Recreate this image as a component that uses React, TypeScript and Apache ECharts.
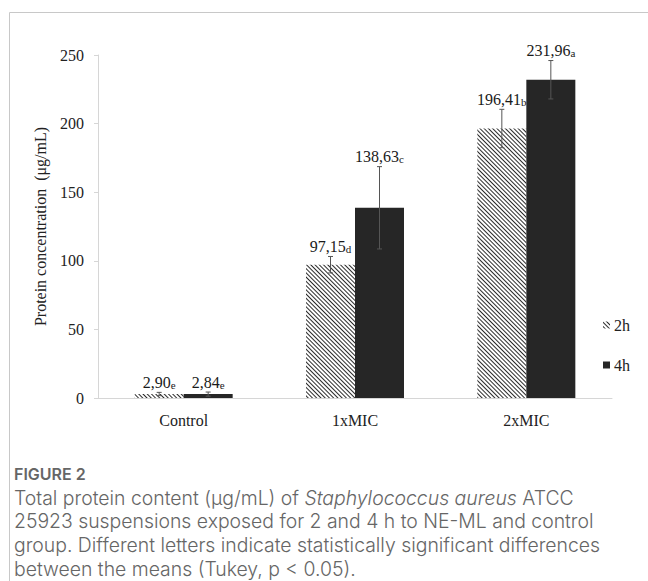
import React, { useEffect, useRef } from "react";
import * as echarts from "echarts";

const categories = ["Control", "1xMIC", "2xMIC"];
const seriesNames = ["2h", "4h"];
const values2h = [2.9, 97.15, 196.41];
const values4h = [2.84, 138.63, 231.96];
const errors2h = [1.2, 6, 14];
const errors4h = [1.5, 30, 14];
const letters2h = ["e", "d", "b"];
const letters4h = ["e", "c", "a"];
const yMin = 0;
const yMax = 250;
const yInterval = 50;
const yAxisName = "Protein concentration  (μg/mL)";
const captionTitle = "FIGURE 2";
const captionLines = [
  "Total protein content (μg/mL) of {i|Staphylococcus aureus} ATCC",
  "25923 suspensions exposed for 2 and 4 h to NE-ML and control",
  "group. Different letters indicate statistically significant differences",
  "between the means (Tukey, p < 0.05).",
];

const BAR_W = 49;
const SERIF = "'Liberation Serif', 'Times New Roman', serif";
const SANS = "Inter, 'Open Sans', sans-serif";
const CAP_SIZE = 19.4;
const CAP_LH = 23.6;

const fmt = (v: number) => v.toFixed(2).replace(".", ",");

export default function App() {
  const ref = useRef<HTMLDivElement>(null);
  useEffect(() => {
    document.body.style.margin = "0";
    const chart = echarts.init(ref.current!, undefined, { renderer: "svg" });
    const errData: any[] = [];
    categories.forEach((_, i) => {
      errData.push([i, 0, values2h[i], errors2h[i], letters2h[i]]);
      errData.push([i, 1, values4h[i], errors4h[i], letters4h[i]]);
    });
    const option: any = {
      animation: false,
      backgroundColor: "#fff",
      textStyle: { fontFamily: SERIF },
      grid: { left: 98, right: 36, top: 55, bottom: 183, containLabel: false },
      legend: {
        orient: "vertical",
        left: 598,
        top: 312,
        itemWidth: 7,
        itemHeight: 7,
        itemGap: 24,
        icon: "rect",
        textStyle: { fontFamily: SERIF, fontSize: 16, color: "#222", padding: [0, 0, 0, -1] },
        data: seriesNames,
      },
      xAxis: {
        type: "category",
        data: categories,
        axisLine: { lineStyle: { color: "#d6d6d6", width: 1 } },
        axisTick: { show: false },
        axisLabel: { fontFamily: SERIF, fontSize: 16, color: "#222", margin: 14 },
      },
      yAxis: {
        type: "value",
        min: yMin,
        max: yMax,
        interval: yInterval,
        name: yAxisName,
        nameLocation: "middle",
        nameGap: 50,
        nameTextStyle: { fontFamily: SERIF, fontSize: 16, color: "#222" },
        axisLine: { show: true, lineStyle: { color: "#d6d6d6", width: 1 } },
        axisTick: { show: true, length: 4, lineStyle: { color: "#d6d6d6" } },
        axisLabel: { fontFamily: SERIF, fontSize: 16, color: "#222", margin: 14 },
        splitLine: { show: false },
      },
      series: [
        {
          name: seriesNames[0],
          type: "bar",
          data: values2h,
          barWidth: BAR_W,
          barGap: "0%",
          itemStyle: {
            color: "#ffffff",
            decal: {
              symbol: "rect",
              symbolSize: 1,
              dashArrayX: [1, 0],
              dashArrayY: [1, 1.4],
              rotation: Math.PI / 4,
              color: "#2a2a2a",
            },
          },
        },
        {
          name: seriesNames[1],
          type: "bar",
          data: values4h,
          barWidth: BAR_W,
          barGap: "0%",
          itemStyle: { color: "#262626" },
        },
        {
          type: "custom",
          data: errData,
          z: 10,
          renderItem: (params: any, api: any) => {
            const cat = api.value(0);
            const s = api.value(1);
            const v = api.value(2);
            const e = api.value(3);
            const letter = errData[params.dataIndex][4];
            const xc = api.coord([cat, 0])[0] + (s === 0 ? -BAR_W / 2 : BAR_W / 2);
            const top = api.coord([cat, v + e])[1];
            const bot = api.coord([cat, Math.max(v - e, 0)])[1];
            const ls = { stroke: "#555", lineWidth: 1 };
            return {
              type: "group",
              children: [
                { type: "line", shape: { x1: xc, y1: top, x2: xc, y2: bot }, style: ls },
                { type: "line", shape: { x1: xc - 2.5, y1: top, x2: xc + 2.5, y2: top }, style: ls },
                { type: "line", shape: { x1: xc - 2.5, y1: bot, x2: xc + 2.5, y2: bot }, style: ls },
                {
                  type: "text",
                  x: xc,
                  y: top - 2,
                  style: {
                    text: `{n|${fmt(v)}}{s|${letter}}`,
                    align: "center",
                    verticalAlign: "bottom",
                    rich: {
                      n: { fontFamily: SERIF, fontSize: 16, fill: "#1a1a1a" },
                      s: { fontFamily: SERIF, fontSize: 11, fill: "#1a1a1a", verticalAlign: "bottom" },
                    },
                  },
                },
              ],
            };
          },
        },
      ],
      graphic: [
        { type: "line", shape: { x1: 9.5, y1: 12.5, x2: 648, y2: 12.5 }, style: { stroke: "#c8c8c8", lineWidth: 1 } },
        { type: "line", shape: { x1: 9.5, y1: 12.5, x2: 9.5, y2: 581 }, style: { stroke: "#c8c8c8", lineWidth: 1 } },
        {
          type: "text",
          left: 14,
          top: 466,
          style: { text: captionTitle, fontFamily: SANS, fontSize: 16, fontWeight: 600, fill: "#666" },
        },
        {
          type: "text",
          left: 14,
          top: 486,
          style: {
            text: captionLines.join("\n"),
            fontFamily: SANS,
            fontSize: CAP_SIZE,
            fontWeight: 300,
            lineHeight: CAP_LH,
            fill: "#666",
            rich: {
              i: { fontFamily: SANS, fontSize: CAP_SIZE, fontWeight: 300, lineHeight: CAP_LH, fontStyle: "italic", fill: "#666" },
            },
          },
        },
      ],
    };
    chart.setOption(option);
    return () => chart.dispose();
  }, []);
  return <div ref={ref} style={{ width: 648, height: 581 }} />;
}
